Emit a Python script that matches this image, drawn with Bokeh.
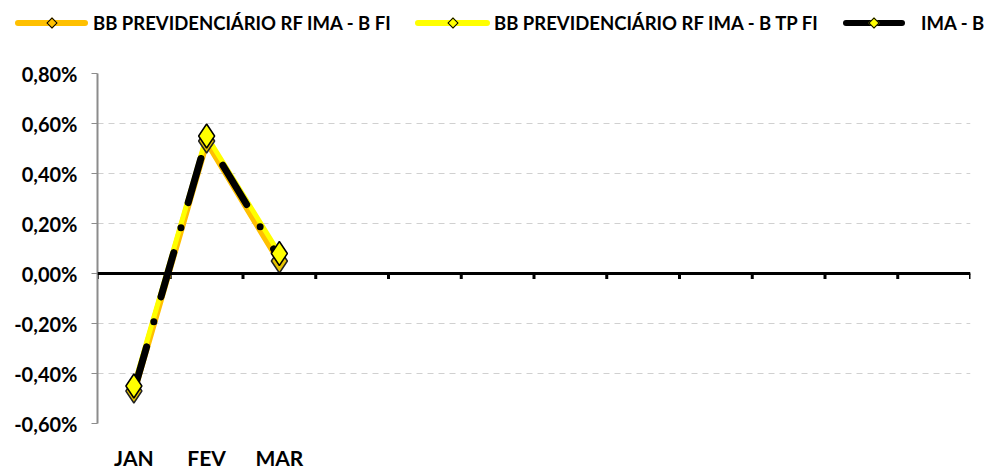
from bokeh.plotting import figure
from bokeh.layouts import column
from bokeh.models import (Range1d, FixedTicker, Span, Div)
from bokeh.embed import file_html
from bokeh.resources import INLINE

months = ["JAN", "FEV", "MAR"]
n_slots = 12
serie_fi = [-0.47, 0.53, 0.05]
serie_tp = [-0.45, 0.55, 0.08]
serie_ima = [-0.47, 0.54, 0.06]
names = ["BB PREVIDENCIÁRIO RF IMA - B FI", "BB PREVIDENCIÁRIO RF IMA - B TP FI", "IMA - B"]
y_ticks = [-0.6, -0.4, -0.2, 0.0, 0.2, 0.4, 0.6, 0.8]

FONT = "Lato"
xs = [i + 0.5 for i in range(len(months))]
LEG_H = 40

p = figure(width=980, height=472 - LEG_H, output_backend="svg", toolbar_location=None,
           x_range=Range1d(0, n_slots), y_range=Range1d(-0.6, 0.8),
           min_border_left=97, min_border_right=10, min_border_top=73 - LEG_H, min_border_bottom=20)
p.outline_line_color = None
p.background_fill_color = "white"
p.border_fill_color = "white"

# grid
p.xgrid.grid_line_color = None
p.ygrid.ticker = FixedTicker(ticks=y_ticks)
p.ygrid.grid_line_color = "#D0D0D0"
p.ygrid.grid_line_dash = "6 5"
p.ygrid.grid_line_width = 1

# y axis
p.yaxis.ticker = FixedTicker(ticks=y_ticks)
p.yaxis.major_label_overrides = {t: ("%.2f%%" % t).replace(".", ",") if t != 0 else "0,00%" for t in y_ticks}
p.yaxis.major_label_text_font = FONT
p.yaxis.major_label_text_font_style = "bold"
p.yaxis.major_label_text_font_size = "20px"
p.yaxis.major_label_text_color = "black"
p.yaxis.axis_line_color = "#8C8C8C"
p.yaxis.axis_line_width = 2
p.yaxis.major_tick_line_color = "#8C8C8C"
p.yaxis.major_tick_out = 6
p.yaxis.major_tick_in = 0
p.yaxis.minor_tick_line_color = None
p.yaxis.major_label_standoff = 14

# x axis (labels only)
p.xaxis.ticker = FixedTicker(ticks=xs)
p.xaxis.major_label_overrides = {x: m for x, m in zip(xs, months)}
p.xaxis.major_label_text_font = FONT
p.xaxis.major_label_text_font_style = "bold"
p.xaxis.major_label_text_font_size = "21px"
p.xaxis.major_label_text_color = "black"
p.xaxis.axis_line_color = None
p.xaxis.major_tick_line_color = None
p.xaxis.minor_tick_line_color = None
p.xaxis.major_label_standoff = 15

# zero line with category ticks
p.add_layout(Span(location=0, dimension="width", line_color="black", line_width=3))
bounds = list(range(n_slots + 1))
p.segment(x0=bounds, y0=[0] * len(bounds), x1=bounds, y1=[-0.022] * len(bounds),
          line_color="black", line_width=3)

# series lines
p.line(xs, serie_fi, line_color="#FFC000", line_width=7, line_join="round", line_cap="round")
p.line(xs, serie_tp, line_color="#FFFF00", line_width=5, line_join="round", line_cap="round")
p.line(xs, serie_ima, line_color="black", line_width=7, line_dash="46 26 0 26",
       line_cap="round", line_join="round")
# markers
p.scatter(xs, serie_fi, marker="diamond", size=24, fill_color="#E8C400", line_color="#222222", line_width=1.5)
p.scatter(xs, serie_ima, marker="diamond", size=8, fill_color="#FFFF00", line_color="black", line_width=1)
p.scatter(xs, serie_tp, marker="diamond", size=24, fill_color="#FFFF00", line_color="black", line_width=1.5)

# legend strip as HTML (real text)
leg_items = [  # (label, line colour, marker fill, line start, line length, label start)
    (names[0], "#FFC000", "#FFC000", 15, 73, 93),
    (names[1], "#FFFF00", "#FFFF00", 415, 75, 494),
    (names[2], "#000000", "#FFFF00", 843, 62, 921),
]
parts = []
for label, lc, mf, x0, w, tx in leg_items:
    cx = x0 + w / 2
    parts.append(f'<div style="position:absolute;left:{x0}px;top:20px;width:{w}px;height:6px;'
                 f'border-radius:3px;background:{lc};"></div>')
    parts.append(f'<div style="position:absolute;left:{cx - 4}px;top:19px;width:8px;height:8px;'
                 f'box-sizing:border-box;border:1.5px solid black;background:{mf};'
                 f'transform:rotate(45deg);"></div>')
    parts.append(f'<span style="position:absolute;left:{tx}px;top:11px;line-height:24px;'
                 f'white-space:nowrap;">{label}</span>')
html = ('<div style="position:relative;width:980px;height:40px;font-family:Lato;'
        'font-weight:bold;font-size:18.5px;color:black;">' + "".join(parts) + '</div>')
leg_div = Div(text=html, width=980, height=LEG_H, margin=0)

open("out.html", "w").write(file_html(column(leg_div, p, spacing=0), INLINE))
